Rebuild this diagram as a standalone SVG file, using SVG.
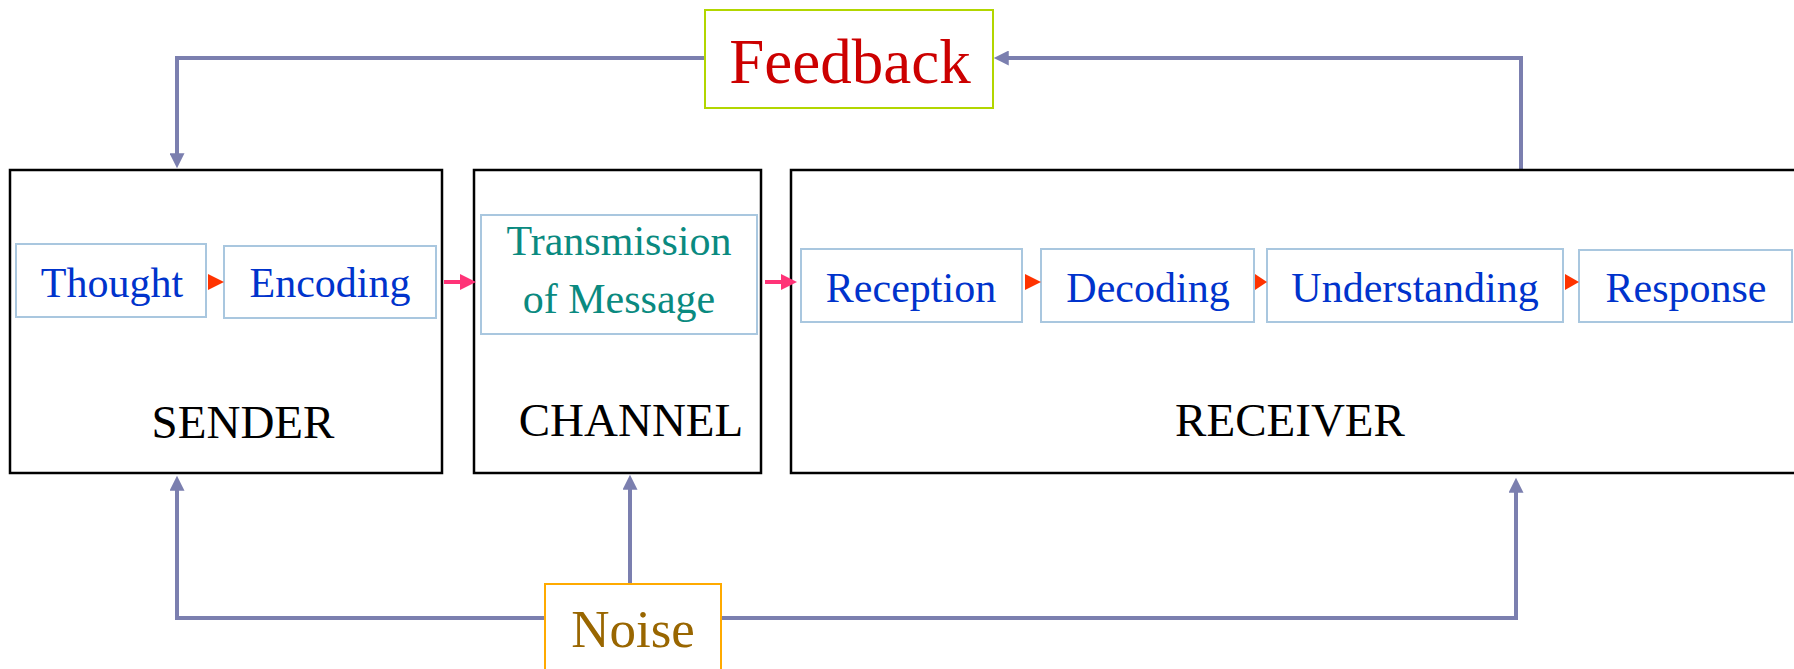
<svg xmlns="http://www.w3.org/2000/svg" width="1794" height="669" viewBox="0 0 1794 669">
  <style>
    .stage { fill: #ffffff; stroke: #000000; stroke-width: 2.5; }
    .step { fill: #ffffff; stroke: #a9c7df; stroke-width: 2; }
    .stage-label { font-family: "Liberation Serif", "Times New Roman", serif; font-size: 47px; fill: #000000; text-anchor: middle; }
    .step-label { font-family: "Liberation Serif", "Times New Roman", serif; font-size: 42px; fill: #0033cc; text-anchor: middle; }
    .teal { fill: #0a8a80; }
    .link { fill: none; stroke: #7b7faf; stroke-width: 4; marker-end: url(#head); }
    .step-arrow { fill: #ff3300; }
    .flow-arrow { fill: #ff3377; }
  </style>
  <defs>
    <marker id="head" viewBox="0 0 16 16" refX="4" refY="8" markerWidth="16" markerHeight="15" markerUnits="userSpaceOnUse" orient="auto">
      <path d="M0,0 L16,8 L0,16 z" fill="#7b7faf"/>
    </marker>
  </defs>

  <rect width="1794" height="669" fill="#ffffff"/>

  <!-- connectors: feedback loop and noise sources -->
  <g id="connectors">
    <path class="link" d="M1521,170 V58 H1005"/>
    <path class="link" d="M705,58 H177 V157"/>
    <path class="link" d="M545,618 H177 V487"/>
    <path class="link" d="M630,584 V486"/>
    <path class="link" d="M721,618 H1516 V489"/>
  </g>

  <!-- sender -->
  <g id="sender">
    <rect class="stage" x="10" y="170" width="432" height="303"/>
    <text class="stage-label" x="243" y="438">SENDER</text>
  </g>
  <g id="thought">
    <rect class="step" x="16" y="244" width="190" height="73"/>
    <text class="step-label" x="112" y="297">Thought</text>
  </g>
  <g id="encoding">
    <rect class="step" x="224" y="246" width="212" height="72"/>
    <text class="step-label" x="330" y="297">Encoding</text>
  </g>

  <!-- channel -->
  <g id="channel">
    <rect class="stage" x="474" y="170" width="287" height="303"/>
    <text class="stage-label" x="631" y="436">CHANNEL</text>
  </g>
  <g id="transmission">
    <rect class="step" x="481" y="215" width="276" height="119"/>
    <text class="step-label teal" x="619" y="255">Transmission</text>
    <text class="step-label teal" x="619" y="313">of Message</text>
  </g>

  <!-- receiver -->
  <g id="receiver">
    <rect class="stage" x="791" y="170" width="1012" height="303"/>
    <text class="stage-label" x="1290" y="436">RECEIVER</text>
  </g>
  <g id="reception">
    <rect class="step" x="801" y="249" width="221" height="73"/>
    <text class="step-label" x="911" y="302">Reception</text>
  </g>
  <g id="decoding">
    <rect class="step" x="1041" y="249" width="213" height="73"/>
    <text class="step-label" x="1148" y="302">Decoding</text>
  </g>
  <g id="understanding">
    <rect class="step" x="1267" y="249" width="296" height="73"/>
    <text class="step-label" x="1415" y="302">Understanding</text>
  </g>
  <g id="response">
    <rect class="step" x="1579" y="250" width="213" height="72"/>
    <text class="step-label" x="1686" y="302">Response</text>
  </g>

  <!-- step and flow arrows -->
  <g id="flow">
    <polygon class="step-arrow" points="208,274 224,282 208,290"/>
    <polygon class="step-arrow" points="1025,274 1041,282 1025,290"/>
    <polygon class="step-arrow" points="1255,274 1267,282 1255,290"/>
    <polygon class="step-arrow" points="1565,274 1579,282 1565,290"/>
    <path class="flow-arrow" d="M444,280 H460 V274 L476,282 L460,290 V284 H444 z"/>
    <path class="flow-arrow" d="M765,280 H781 V274 L797,282 L781,290 V284 H765 z"/>
  </g>

  <!-- feedback -->
  <g id="feedback">
    <rect x="705" y="10" width="288" height="98" fill="#ffffff" stroke="#b2d600" stroke-width="2"/>
    <text x="850" y="83" font-family="Liberation Serif, Times New Roman, serif" font-size="63" fill="#cc0000" text-anchor="middle">Feedback</text>
  </g>

  <!-- noise -->
  <g id="noise">
    <rect x="545" y="584" width="176" height="100" fill="#ffffff" stroke="#ffaa00" stroke-width="2"/>
    <text x="633" y="647" font-family="Liberation Serif, Times New Roman, serif" font-size="53" fill="#996600" text-anchor="middle">Noise</text>
  </g>
</svg>
